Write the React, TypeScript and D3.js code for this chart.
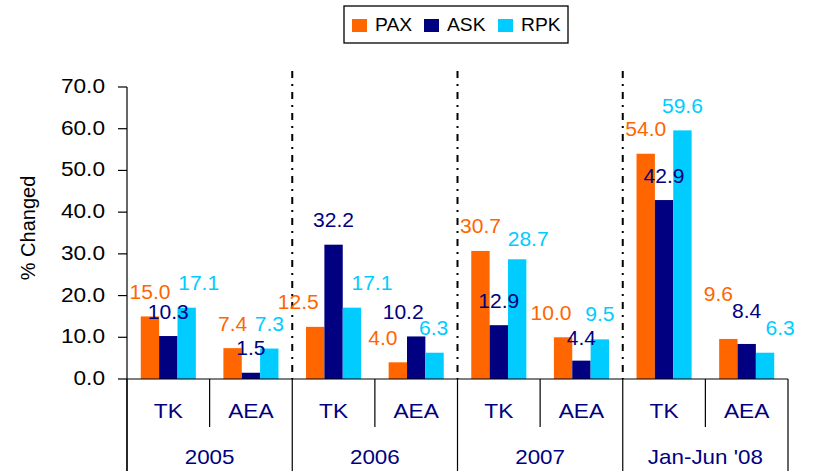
import React from 'react';
import * as d3 from 'd3';

const periods = ['2005', '2006', '2007', "Jan-Jun '08"];
const carriers = ['TK', 'AEA'];
const seriesNames = ['PAX', 'ASK', 'RPK'];
const yTicks = [0, 10, 20, 30, 40, 50, 60, 70];

// values per category: 2005 TK, 2005 AEA, 2006 TK, ... Jan-Jun '08 AEA
const pax = [15.0, 7.4, 12.5, 4.0, 30.7, 10.0, 54.0, 9.6];
const ask = [10.3, 1.5, 32.2, 10.2, 12.9, 4.4, 42.9, 8.4];
const rpk = [17.1, 7.3, 17.1, 6.3, 28.7, 9.5, 59.6, 6.3];

// manual nudges of the value labels, as in the original sheet
const labelNudge: [number, number][][] = [
  [[0, 0], [0, 0], [12, 0]],
  [[0, 0], [0, 0], [0, 0]],
  [[-17, 0], [0, 0], [20, 0]],
  [[-15, 0], [-13, 0], [-1, 0]],
  [[0, 0], [0, 0], [11, 4]],
  [[-12, 0], [0, 2], [0, -1]],
  [[0, 0], [0, 0], [0, 0]],
  [[-10, -20], [0, -8], [15, 0]],
];

const colors = ['#FF6600', '#000080', '#00CCFF'];
const font = '"Liberation Sans", Arial, Helvetica, sans-serif';

const W = 814, H = 471;
const left = 127, right = 788, top = 87, bottom = 379;

function SText({ x, y, sx = 1.1, size, fill = '#000', anchor = 'middle', children }: any) {
  return (
    <text transform={`translate(${x},${y}) scale(${sx},1)`} fontSize={size} fill={fill}
      textAnchor={anchor} fontFamily={font}>{children}</text>
  );
}

export default function App() {
  const values = [pax, ask, rpk];
  const cats = periods.flatMap((p) => carriers.map((c) => `${p}|${c}`));

  const x = d3.scaleBand<string>().domain(cats).range([left, right]).padding(0);
  const xs = d3.scaleBand<string>().domain(seriesNames).range([0, x.bandwidth()])
    .paddingInner(0).paddingOuter(0.75);
  const y = d3.scaleLinear().domain([0, 70]).range([bottom, top]);

  const step = x.step();
  const boundaries = d3.range(cats.length + 1).map((i) => left + i * step);

  return (
    <svg width={W} height={H} style={{ position: 'absolute', left: 0, top: 0 }}>
      <rect width={W} height={H} fill="#fff" />

      {/* legend */}
      <rect x={344} y={6} width={224} height={37} fill="#fff" stroke="#000" strokeWidth={1.3} />
      {seriesNames.map((s, i) => {
        const lx = [352, 424, 498][i];
        return (
          <g key={s}>
            <rect x={lx} y={19} width={15} height={13} fill={colors[i]} />
            <SText x={lx + 23} y={31} size={18} sx={1.07} anchor="start">{s}</SText>
          </g>
        );
      })}

      {/* y axis title */}
      <text transform="translate(35,228) rotate(-90)" textAnchor="middle" fontSize={20}
        fontFamily={font} fill="#000">% Changed</text>

      {/* y axis */}
      <line x1={left} x2={left} y1={top} y2={H} stroke="#000" strokeWidth={1.2} />
      {yTicks.map((t) => (
        <g key={t}>
          <line x1={left - 9} x2={left} y1={y(t)} y2={y(t)} stroke="#000" strokeWidth={1.2} />
          <SText x={105} y={y(t) + 6} size={21} sx={1.08} anchor="end">{t.toFixed(1)}</SText>
        </g>
      ))}

      {/* period dividers */}
      {[2, 4, 6].map((i) => (
        <line key={i} x1={boundaries[i]} x2={boundaries[i]} y1={71} y2={bottom}
          stroke="#000" strokeWidth={2} strokeDasharray="7,6,2,6" />
      ))}

      {/* bars */}
      {cats.map((c, ci) => (
        <g key={c} transform={`translate(${x(c)},0)`}>
          {seriesNames.map((s, si) => (
            <rect key={s} x={xs(s)} width={xs.bandwidth()} y={y(values[si][ci])}
              height={bottom - y(values[si][ci])} fill={colors[si]} />
          ))}
        </g>
      ))}

      {/* value labels */}
      {cats.map((c, ci) =>
        seriesNames.map((s, si) => {
          const v = values[si][ci];
          const [dx, dy] = labelNudge[ci][si];
          const cx = (x(c) as number) + (xs(s) as number) + xs.bandwidth() / 2 + dx;
          return (
            <SText key={c + s} x={cx} y={y(v) - 17.5 + dy} size={19.5} sx={1.08} fill={colors[si]}>
              {v.toFixed(1)}
            </SText>
          );
        })
      )}

      {/* category axis table */}
      <line x1={left} x2={right} y1={bottom} y2={bottom} stroke="#000" strokeWidth={1.2} />
      {boundaries.map((bx, i) => (
        <line key={i} x1={bx} x2={bx} y1={bottom} y2={i % 2 === 0 ? H : 427}
          stroke="#000" strokeWidth={1.2} />
      ))}
      {cats.map((c) => (
        <SText key={c} x={(x(c) as number) + step / 2} y={418} size={21} sx={1.08} fill="#000080">
          {c.split('|')[1]}
        </SText>
      ))}
      {periods.map((p, i) => (
        <SText key={p} x={left + (i * 2 + 1) * step} y={463.5} size={20} sx={1.12} fill="#000080">
          {p}
        </SText>
      ))}
    </svg>
  );
}
